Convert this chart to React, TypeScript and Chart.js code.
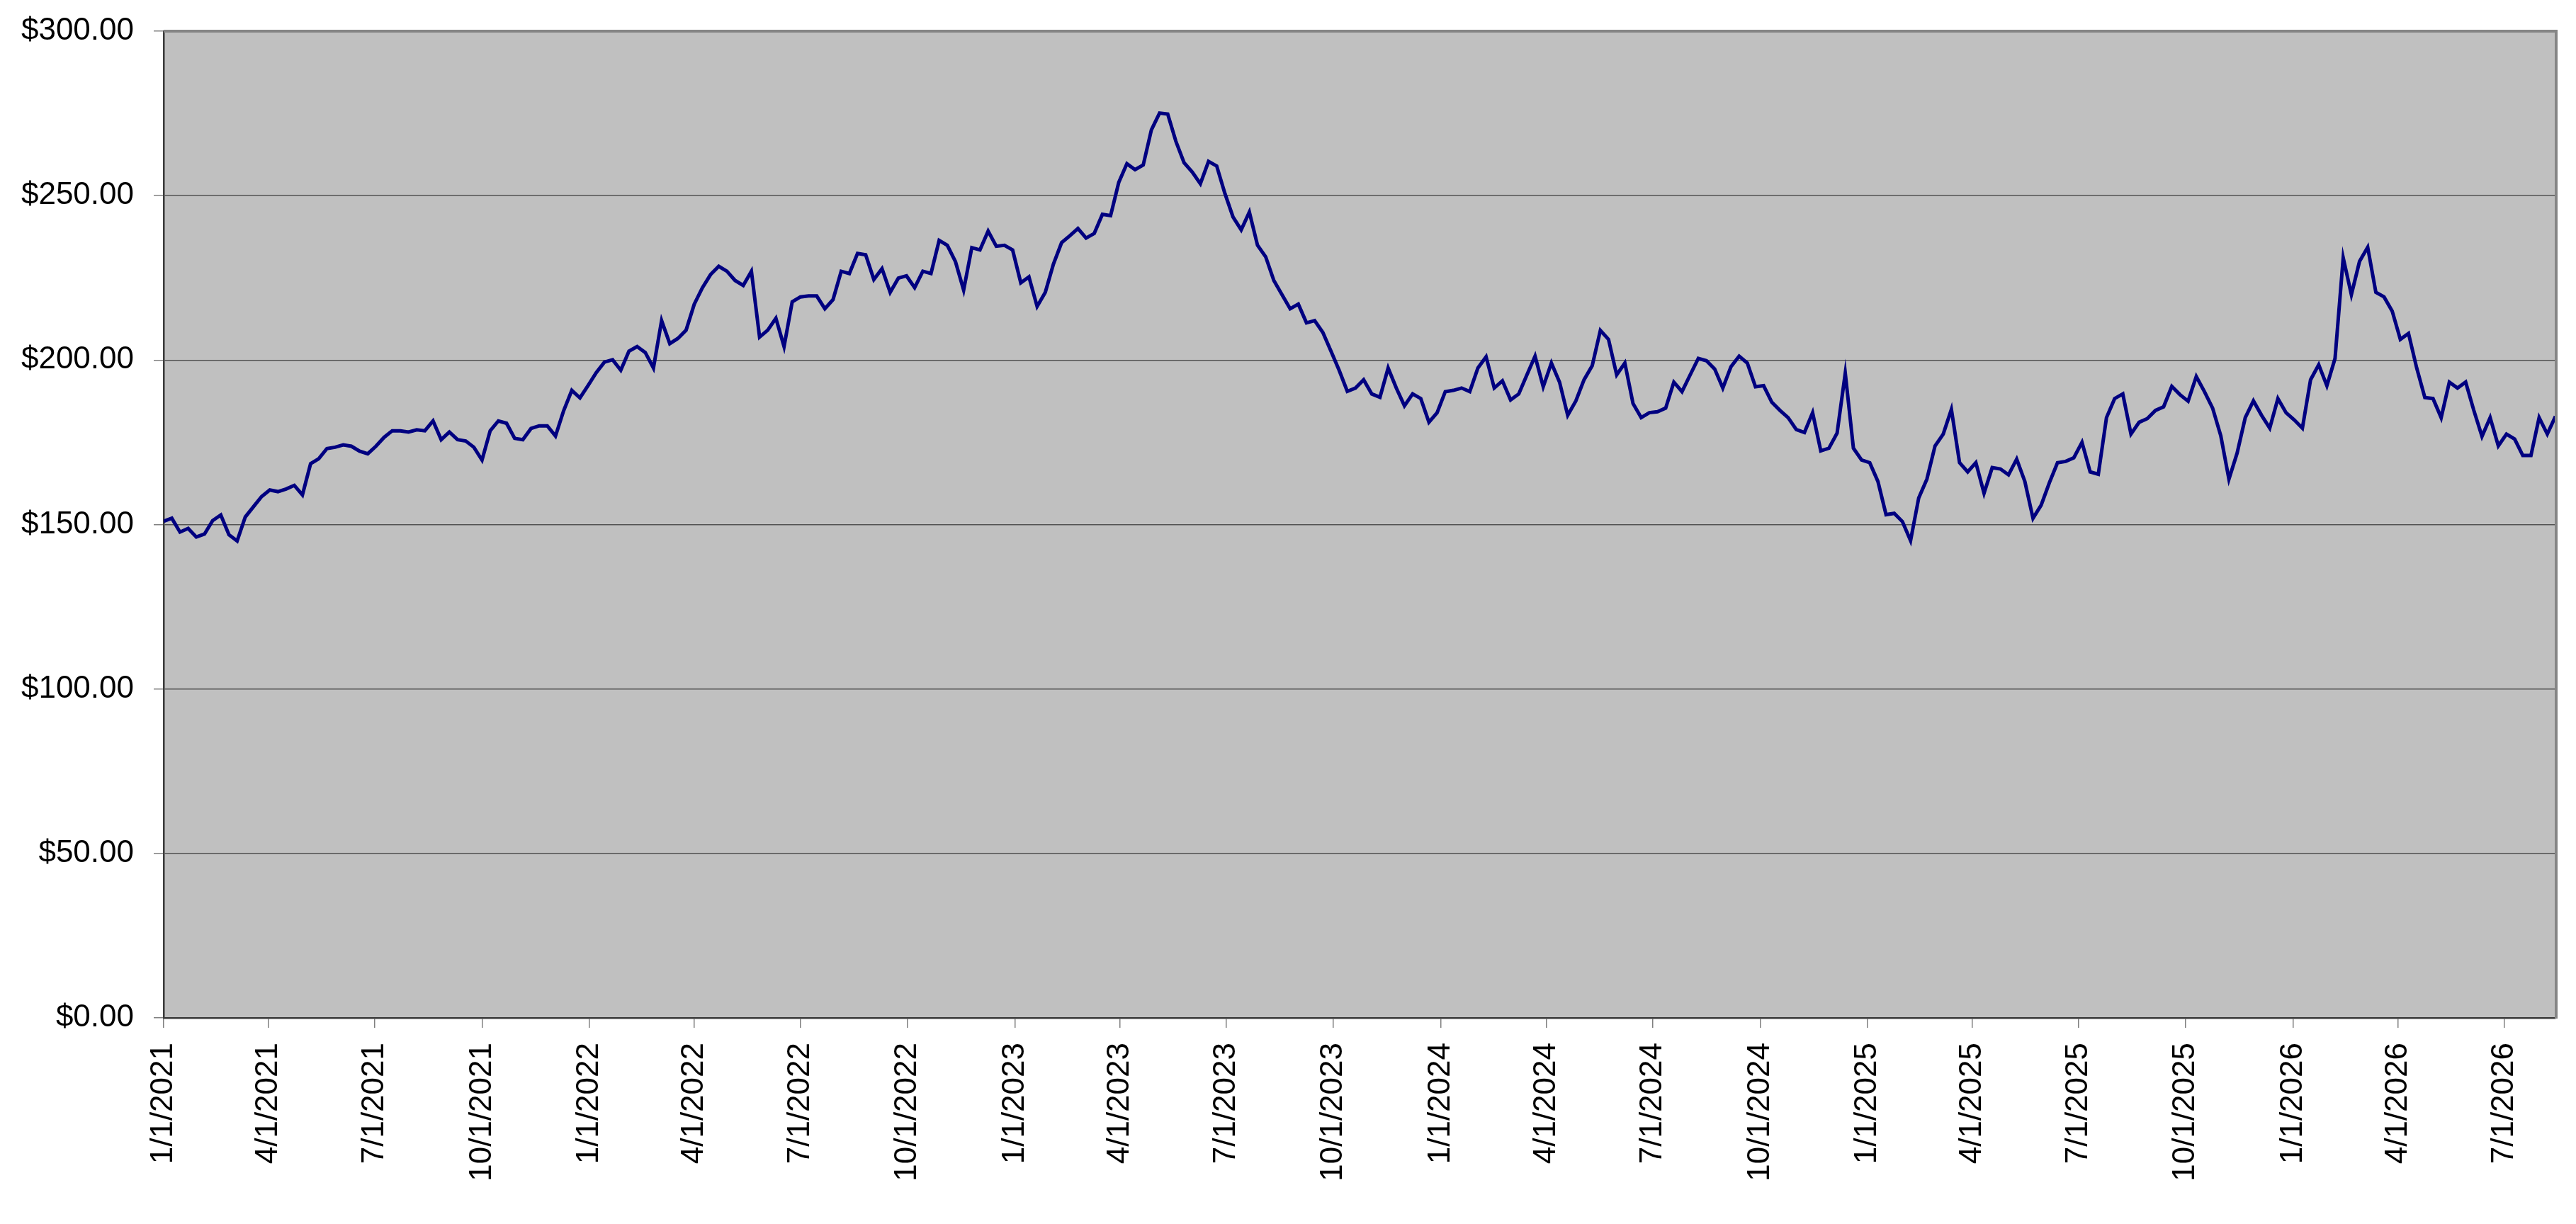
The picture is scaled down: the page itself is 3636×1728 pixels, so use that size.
import { useEffect, useRef } from "react";
import { Chart, registerables } from "chart.js";

Chart.register(...registerables);

// weekly closing prices, first week starts 1/1/2021
const START_DATE = "1/1/2021";
const STEP_DAYS = 7;

const prices2021 = [
  151, 151.9, 147.7, 148.8, 146.2, 147.1, 151.2, 152.9, 146.9, 145,
  152.3, 155.4, 158.5, 160.5, 160, 160.8, 161.9, 159, 168.5, 170,
  173.1, 173.5, 174.2, 173.8, 172.3, 171.5, 173.8, 176.5, 178.5, 178.5,
  178.1, 178.8, 178.5, 181.5, 175.8, 178.1, 175.8, 175.4, 173.5, 169.6,
  178.5, 181.5, 180.8, 176.2, 175.8, 179.2, 180, 180, 176.9, 184.6,
  190.8, 188.5,
];

const prices2022 = [
  192.3, 196.2, 199.4, 200.1, 196.9, 202.7, 204.1, 202.3, 197.6, 212,
  205, 206.6, 209.1, 217, 222, 226, 228.5, 227, 224.2, 222.7,
  227, 207, 209.1, 212.7, 204.1, 217.7, 219.2, 219.5, 219.5, 215.6,
  218.4, 227, 226.3, 232.4, 232, 224.5, 227.8, 220.6, 224.9, 225.6,
  222, 227, 226.3, 236.4, 234.9, 229.9, 221.3, 234.2, 233.5, 239.2,
  234.6, 234.9,
];

const prices2023 = [
  233.5, 223.5, 225.3, 216.3, 220.6, 229.2, 235.7, 237.8, 240, 237.1,
  238.5, 244.3, 243.9, 254, 259.7, 257.9, 259.3, 270, 275.1, 274.8,
  266.5, 260, 257.2, 253.6, 260.4, 259, 250.7, 243.5, 239.6, 245,
  234.9, 231.4, 224.2, 219.9, 215.6, 217, 211.3, 212, 208.4, 202.7,
  196.9, 190.5, 191.5, 194, 189.7, 188.7, 197.6, 191.5, 186.1, 189.7,
  188.3, 181.1,
];

const prices2024 = [
  184, 190.4, 190.8, 191.5, 190.4, 197.6, 201, 191.5, 193.7, 187.9,
  189.7, 195.5, 201.2, 191.9, 199.1, 193.3, 183.2, 187.6, 194, 198.3,
  209, 206.3, 195.5, 199.1, 186.8, 182.5, 184, 184.3, 185.4, 193.3,
  190.4, 195.5, 200.5, 199.8, 197.3, 191.5, 198, 201.2, 199.1, 191.9,
  192.2, 187.2, 184.7, 182.5, 178.9, 178, 184, 172.4, 173.2, 177.8,
  196, 173.2,
];

const prices2025 = [
  169.6, 168.8, 163.1, 153, 153.4, 150.9, 145.1, 158.1, 163.8, 173.9,
  177.5, 185, 168.8, 166, 168.8, 159.5, 167.3, 166.9, 165.1, 169.9,
  163.1, 151.9, 155.9, 162.7, 168.8, 169.2, 170.3, 175, 166, 165.3,
  182.5, 188.3, 189.7, 177.5, 181.1, 182.2, 184.7, 185.8, 192, 189.5,
  187.5, 195, 190.4, 185.4, 177, 163.8, 171.7, 182.5, 187.6, 183.2,
  179.3, 188.3,
];

const prices2026 = [
  184, 181.8, 179.3, 194, 198.6, 192.2, 200.5, 231.1, 219.9, 230,
  234.3, 220.6, 219.2, 214.9, 206.3, 208.1, 197.6, 188.6, 188.3, 182.5,
  193.3, 191.5, 193.3, 184.7, 176.8, 182.5, 173.9, 177.5, 176, 171,
  171, 182.5, 177.5, 182.9,
];

const tickLabels = [
  "1/1/2021", "4/1/2021", "7/1/2021", "10/1/2021",
  "1/1/2022", "4/1/2022", "7/1/2022", "10/1/2022",
  "1/1/2023", "4/1/2023", "7/1/2023", "10/1/2023",
  "1/1/2024", "4/1/2024", "7/1/2024", "10/1/2024",
  "1/1/2025", "4/1/2025", "7/1/2025", "10/1/2025",
  "1/1/2026", "4/1/2026", "7/1/2026",
];

const DAY_MS = 86400000;

function parseDate(s: string) {
  const [m, d, y] = s.split("/").map(Number);
  return Date.UTC(y, m - 1, d);
}

function formatDate(v: number) {
  const d = new Date(v);
  return `${d.getUTCMonth() + 1}/${d.getUTCDate()}/${d.getUTCFullYear()}`;
}

const prices = [
  ...prices2021,
  ...prices2022,
  ...prices2023,
  ...prices2024,
  ...prices2025,
  ...prices2026,
];
const startMs = parseDate(START_DATE);
const points = prices.map((y, i) => ({ x: startMs + i * STEP_DAYS * DAY_MS, y }));
const tickValues = tickLabels.map(parseDate);

const FONT = { family: "'Liberation Sans', Arial, sans-serif", size: 44 };

// grey plot area + the lighter frame on top and right
const plotFrame = {
  id: "plotFrame",
  beforeDraw(chart: Chart) {
    const { ctx, chartArea: a } = chart;
    ctx.save();
    ctx.fillStyle = "#c0c0c0";
    ctx.fillRect(a.left, a.top, a.right - a.left, a.bottom - a.top);
    ctx.restore();
  },
  afterDraw(chart: Chart) {
    const { ctx, chartArea: a } = chart;
    ctx.save();
    ctx.strokeStyle = "#858585";
    ctx.lineWidth = 4;
    ctx.beginPath();
    ctx.moveTo(a.left, a.top);
    ctx.lineTo(a.right + 1, a.top);
    ctx.lineTo(a.right + 1, a.bottom + 1);
    ctx.stroke();
    ctx.restore();
  },
};

export default function App() {
  const canvasRef = useRef<HTMLCanvasElement | null>(null);

  useEffect(() => {
    if (!canvasRef.current) return;

    const chart = new Chart(canvasRef.current, {
      type: "line",
      data: {
        datasets: [
          {
            label: "Price",
            data: points,
            borderColor: "#000080",
            borderWidth: 5,
            pointRadius: 0,
            tension: 0,
            fill: false,
          },
        ],
      },
      options: {
        animation: false,
        responsive: true,
        maintainAspectRatio: false,
        parsing: false,
        layout: { padding: { top: 44, right: 29, left: 0, bottom: 0 } },
        plugins: {
          legend: { display: false },
          tooltip: { enabled: false },
        },
        scales: {
          x: {
            type: "linear",
            min: startMs,
            max: points[points.length - 1].x,
            afterBuildTicks: (axis: any) => {
              axis.ticks = tickValues.map((value) => ({ value }));
            },
            afterFit: (axis: any) => {
              axis.height = 291;
              axis.paddingLeft = 0;
              axis.paddingRight = 0;
            },
            ticks: {
              autoSkip: false,
              maxRotation: 90,
              minRotation: 90,
              padding: 21,
              color: "#000",
              font: FONT,
              callback: (v: any) => formatDate(Number(v)),
            },
            grid: {
              drawOnChartArea: false,
              drawTicks: true,
              tickLength: 14,
              tickColor: "#808080",
              lineWidth: 1.5,
            },
            border: { display: true, color: "#3a3a3a", width: 2.5 },
          },
          y: {
            min: 0,
            max: 300,
            afterFit: (axis: any) => {
              axis.width = 231;
              axis.paddingTop = 0;
              axis.paddingBottom = 0;
            },
            ticks: {
              stepSize: 50,
              padding: 28,
              color: "#000",
              font: FONT,
              callback: (v: any) => "$" + Number(v).toFixed(2),
            },
            grid: {
              color: "#525252",
              lineWidth: 1.5,
              tickLength: 14,
              tickColor: "#808080",
            },
            border: { display: true, color: "#3a3a3a", width: 2.5 },
          },
        },
      },
      plugins: [plotFrame],
    });

    return () => {
      chart.destroy();
    };
  }, []);

  return (
    <div style={{ position: "fixed", left: 0, top: 0, width: "100vw", height: "100vh", background: "#fff" }}>
      <canvas ref={canvasRef} />
    </div>
  );
}
